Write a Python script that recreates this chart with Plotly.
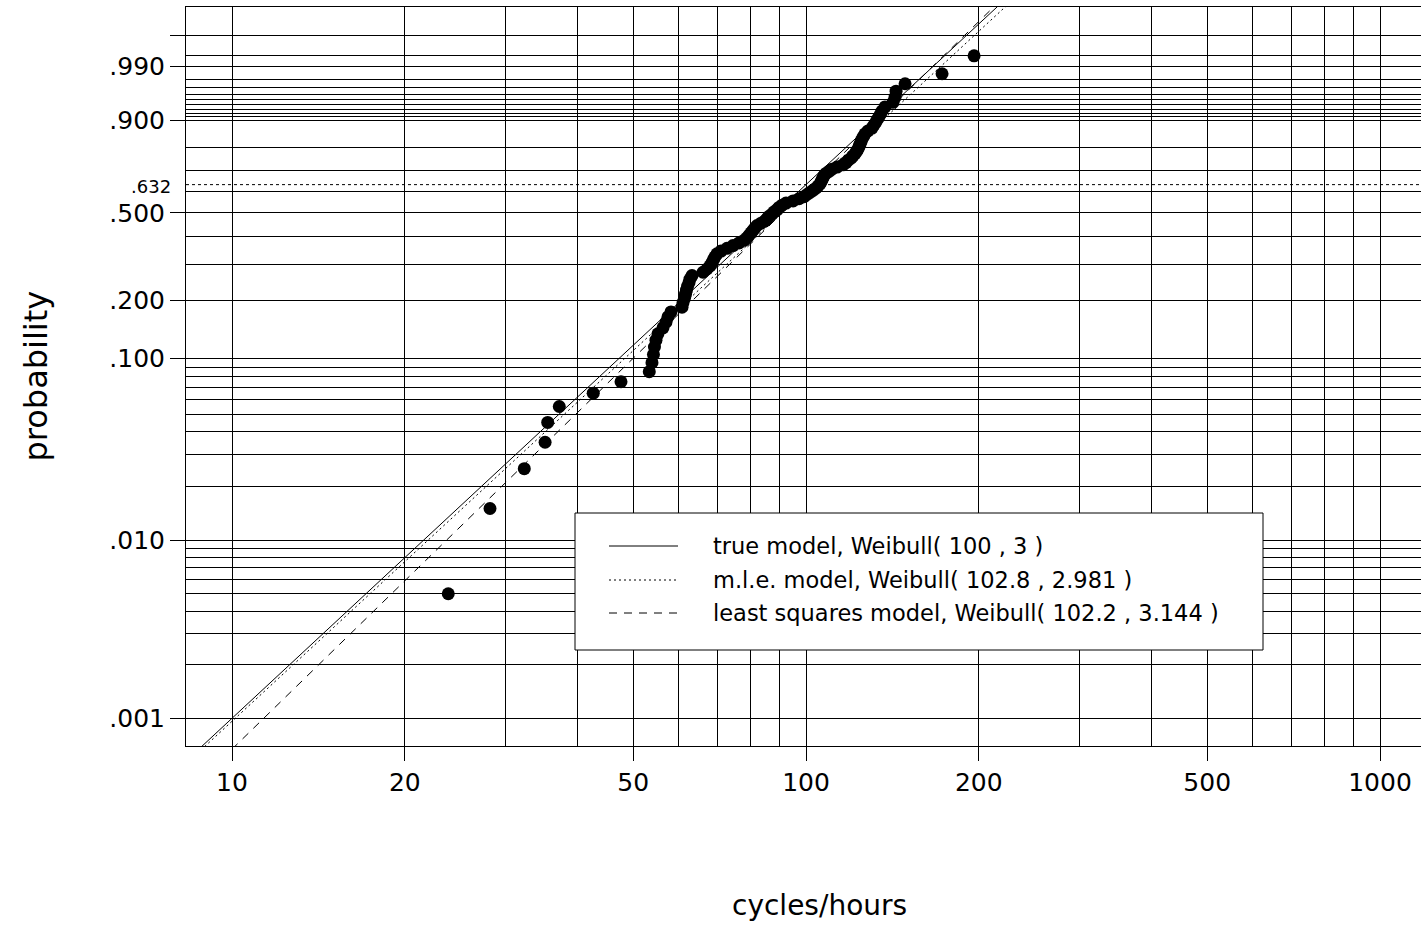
import numpy as np
import plotly.graph_objects as go

# ---------------- data ----------------
cycles = [23.81, 28.15, 32.30, 35.11, 35.48, 37.17, 42.60, 47.61, 53.33, 53.91,
          54.23, 54.45, 54.78, 55.22, 56.34, 57.02, 57.48, 58.18, 60.81, 61.05,
          61.42, 61.67, 61.91, 62.17, 62.54, 62.79, 63.30, 66.16, 67.22, 68.04,
          68.58, 69.00, 69.42, 69.97, 71.11, 72.85, 74.62, 76.45, 77.99, 78.93,
          79.57, 80.21, 80.86, 81.50, 82.16, 83.49, 84.84, 85.53, 86.21, 87.26,
          87.97, 89.03, 89.75, 90.84, 92.31, 94.94, 97.23, 99.20, 100.40, 101.62,
          102.85, 104.09, 104.93, 105.78, 106.20, 106.63, 107.06, 107.49, 108.34, 109.67,
          111.00, 113.25, 116.01, 117.41, 118.35, 119.80, 120.76, 121.74, 122.47, 123.21,
          123.70, 124.20, 124.70, 125.20, 125.95, 126.71, 128.24, 130.32, 131.37, 132.43,
          133.50, 134.57, 135.66, 137.30, 141.80, 142.94, 143.52, 148.80, 172.59, 196.26]

plot_prob = [0.005, 0.015, 0.025, 0.035, 0.045, 0.055, 0.065, 0.075, 0.085, 0.095,
             0.105, 0.115, 0.125, 0.135, 0.145, 0.155, 0.165, 0.175, 0.185, 0.195,
             0.205, 0.215, 0.225, 0.235, 0.245, 0.255, 0.265, 0.275, 0.285, 0.295,
             0.305, 0.315, 0.325, 0.335, 0.345, 0.355, 0.365, 0.375, 0.385, 0.395,
             0.405, 0.415, 0.425, 0.435, 0.445, 0.455, 0.465, 0.475, 0.485, 0.495,
             0.505, 0.515, 0.525, 0.535, 0.545, 0.555, 0.565, 0.575, 0.585, 0.595,
             0.605, 0.615, 0.625, 0.635, 0.645, 0.655, 0.665, 0.675, 0.685, 0.695,
             0.705, 0.715, 0.725, 0.735, 0.745, 0.755, 0.765, 0.775, 0.785, 0.795,
             0.805, 0.815, 0.825, 0.835, 0.845, 0.855, 0.865, 0.875, 0.885, 0.895,
             0.905, 0.915, 0.925, 0.935, 0.945, 0.955, 0.965, 0.975, 0.985, 0.995]

model_names = ["true model, Weibull( 100 , 3 )",
               "m.l.e. model, Weibull( 102.8 , 2.981 )",
               "least squares model, Weibull( 102.2 , 3.144 )"]
model_scale = [100.0, 102.8, 102.2]
model_shape = [3.0, 2.981, 3.144]
model_dash = ["solid", "2px,3px", "8px,7px"]

y_tick_probs = [0.001, 0.01, 0.1, 0.2, 0.5, 0.9, 0.99, 0.999]
y_tick_text = [".001", ".010", ".100", ".200", ".500", ".900", ".990", ""]
y_grid_probs = [0.002, 0.003, 0.004, 0.005, 0.006, 0.007, 0.008, 0.009,
                0.02, 0.03, 0.04, 0.05, 0.06, 0.07, 0.08, 0.09,
                0.3, 0.4, 0.6, 0.7, 0.8,
                0.91, 0.92, 0.93, 0.94, 0.95, 0.96, 0.97, 0.98, 0.995]
char_prob = 0.632

x_tick_vals = [10, 20, 50, 100, 200, 500, 1000]
x_tick_text = ["10", "20", "50", "100", "200", "500", "1000"]
x_grid_vals = [30, 40, 60, 70, 80, 90, 300, 400, 600, 700, 800, 900]


def wscale(p):
    p = np.asarray(p, dtype=float)
    return np.log10(-np.log(1.0 - p))


FONT = "DejaVu Sans"
W, H = 1421, 925
PX_L, PX_R, PX_T, PX_B = 186, 1421, 7, 746


def fx(px):
    return (px - PX_L) / (PX_R - PX_L)


def fy(py):
    return (PX_B - py) / (PX_B - PX_T)


fig = go.Figure()

# model lines
lx = np.array([0.85, 3.2])
for name, eta, beta, dash in zip(model_names, model_scale, model_shape, model_dash):
    fig.add_trace(go.Scatter(
        x=10 ** lx, y=beta * (lx - np.log10(eta)), mode="lines",
        line=dict(color="black", width=1, dash=dash), name=name,
        hoverinfo="skip"))

# data points
fig.add_trace(go.Scatter(
    x=cycles, y=wscale(plot_prob), mode="markers",
    marker=dict(color="black", size=13), name="data"))

# characteristic life line (.632)
fig.add_shape(type="line", xref="paper", x0=0, x1=1, yref="y",
              y0=float(wscale(char_prob)), y1=float(wscale(char_prob)),
              line=dict(color="black", width=1, dash="3px,3px"), layer="below")

# legend drawn by hand
fig.add_shape(type="rect", xref="paper", yref="paper",
              x0=fx(575), x1=fx(1263), y0=fy(650), y1=fy(513),
              fillcolor="white", line=dict(color="black", width=1), layer="above")
rows = [546, 580, 613]
for name, dash, ry in zip(model_names, model_dash, rows):
    fig.add_shape(type="line", xref="paper", yref="paper",
                  x0=fx(609), x1=fx(678), y0=fy(ry), y1=fy(ry),
                  line=dict(color="black", width=1, dash=dash), layer="above")
    fig.add_annotation(text=name, xref="paper", yref="paper", x=fx(711), y=fy(ry),
                       xanchor="left", yanchor="middle", showarrow=False,
                       font=dict(family=FONT, size=22.5, color="black"))

# .632 label
fig.add_annotation(text=".632", xref="paper", x=0, xshift=-13, xanchor="right",
                   yref="y", y=float(wscale(char_prob)), yshift=-2, yanchor="middle",
                   showarrow=False, font=dict(family=FONT, size=18, color="black"))

# axis titles
fig.add_annotation(text="probability", xref="paper", x=0, xshift=35 - PX_L,
                   xanchor="center", yref="paper", y=0.5, yanchor="middle",
                   textangle=-90, showarrow=False,
                   font=dict(family=FONT, size=32, color="black"))
fig.add_annotation(text="cycles/hours", xref="paper", x=fx(819.5),
                   xanchor="center", yref="paper", y=fy(905), yanchor="middle",
                   showarrow=False, font=dict(family=FONT, size=28, color="black"))

fig.update_layout(
    width=W, height=H, autosize=False,
    margin=dict(l=PX_L, r=W - PX_R, t=PX_T, b=H - PX_B, pad=0),
    paper_bgcolor="white", plot_bgcolor="white", showlegend=False,
    font=dict(family=FONT, color="black"),
    xaxis=dict(type="log", range=[1 - (232 - PX_L) / 574, 3 + (PX_R - 1380) / 574],
               tickmode="array", tickvals=x_tick_vals, ticktext=x_tick_text,
               ticks="outside", ticklen=14, tickwidth=1, tickcolor="black",
               tickfont=dict(family=FONT, size=25, color="black"),
               ticklabelstandoff=0,
               showgrid=True, gridcolor="black", gridwidth=1,
               minor=dict(tickmode="array", tickvals=x_grid_vals, showgrid=True,
                          gridcolor="black", gridwidth=1, ticks=""),
               showline=True, linecolor="black", linewidth=1, mirror=True,
               zeroline=False),
    yaxis=dict(range=[-(PX_B - 184.6) / 177.9, (184.6 - PX_T) / 177.9],
               tickmode="array", tickvals=wscale(y_tick_probs).tolist(),
               ticktext=y_tick_text,
               ticks="outside", ticklen=15, tickwidth=1, tickcolor="black",
               tickfont=dict(family=FONT, size=25, color="black"),
               ticklabelstandoff=0,
               showgrid=True, gridcolor="black", gridwidth=1,
               minor=dict(tickmode="array", tickvals=wscale(y_grid_probs).tolist(),
                          showgrid=True, gridcolor="black", gridwidth=1, ticks=""),
               showline=True, linecolor="black", linewidth=1, mirror=False,
               zeroline=False),
)

fig.write_html("out.html")
